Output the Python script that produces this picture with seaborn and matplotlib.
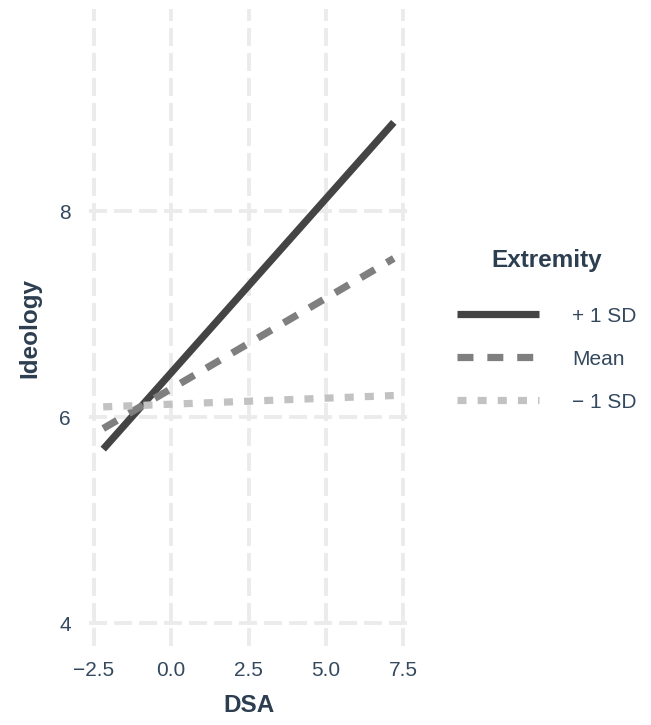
import numpy as np
import pandas as pd
import matplotlib
matplotlib.use("Agg")
import matplotlib.pyplot as plt
import seaborn as sns

# Data
dsa = [-2.2, 7.2]
plus_1sd = [5.69, 8.86]
mean_vals = [5.89, 7.54]
minus_1sd = [6.10, 6.21]
groups = ["+ 1 SD", "Mean", "\u2212 1 SD"]
x_ticks = [-2.5, 0.0, 2.5, 5.0, 7.5]
x_tick_labels = ["\u22122.5", "0.0", "2.5", "5.0", "7.5"]
y_ticks = [4, 6, 8]
y_tick_labels = ["4", "6", "8"]

df = pd.DataFrame({
    "DSA": dsa * 3,
    "Ideology": plus_1sd + mean_vals + minus_1sd,
    "Extremity": [groups[0]] * 2 + [groups[1]] * 2 + [groups[2]] * 2,
})

sns.set_theme(style="white")
plt.rcParams["font.family"] = ["Liberation Sans", "DejaVu Sans"]
plt.rcParams["lines.scale_dashes"] = False

TEXT = "#2c3e50"
TICK = "#34495e"
colors = {groups[0]: "#444444", groups[1]: "#7f7f7f", groups[2]: "#c2c2c2"}
styles = {groups[0]: "-", groups[1]: (0, (11.5, 10.0)), groups[2]: (0, (6.5, 8.0))}

fig = plt.figure(figsize=(6.51, 7.25), dpi=100)
ax = fig.add_axes([89 / 651, 1 - 646 / 725, (408 - 89) / 651, (646 - 9) / 725])

for g in groups:
    sub = df[df["Extremity"] == g]
    sns.lineplot(data=sub, x="DSA", y="Ideology", ax=ax, color=colors[g],
                 linestyle=styles[g], linewidth=5.2, label=g,
                 solid_capstyle="butt", dash_capstyle="butt")

ax.set_xlim(-2.66, 7.66)
ax.set_ylim(3.78, 9.96)
ax.set_xticks(x_ticks)
ax.set_xticklabels(x_tick_labels)
ax.set_yticks(y_ticks)
ax.set_yticklabels(y_tick_labels)
ax.grid(True, color="#ebebeb", linewidth=2.8, linestyle=(0, (13, 5)))
ax.set_axisbelow(True)
for s in ax.spines.values():
    s.set_visible(False)
ax.tick_params(axis="x", length=0, labelsize=15, labelcolor=TICK, pad=11)
ax.tick_params(axis="y", length=0, labelsize=15, labelcolor=TICK, pad=13)
ax.set_xlabel("DSA", fontsize=17.5, fontweight="bold", color=TEXT, labelpad=10)
ax.set_ylabel("Ideology", fontsize=17.5, fontweight="bold", color=TEXT, labelpad=13)

handles, labels = ax.get_legend_handles_labels()
if ax.legend_:
    ax.legend_.remove()
leg = fig.legend(handles, labels, title="Extremity", loc="upper left",
                 bbox_to_anchor=(457 / 651, 1 - 249 / 725), frameon=False,
                 fontsize=15, handlelength=3.94, handletextpad=1.6,
                 labelspacing=1.15, borderaxespad=0, borderpad=0)
leg.get_title().set_fontsize(17.5)
leg.get_title().set_fontweight("bold")
leg.get_title().set_color(TEXT)
leg._legend_box.sep = 25
for t in leg.get_texts():
    t.set_color(TICK)

fig.savefig("out.png", dpi=100)
